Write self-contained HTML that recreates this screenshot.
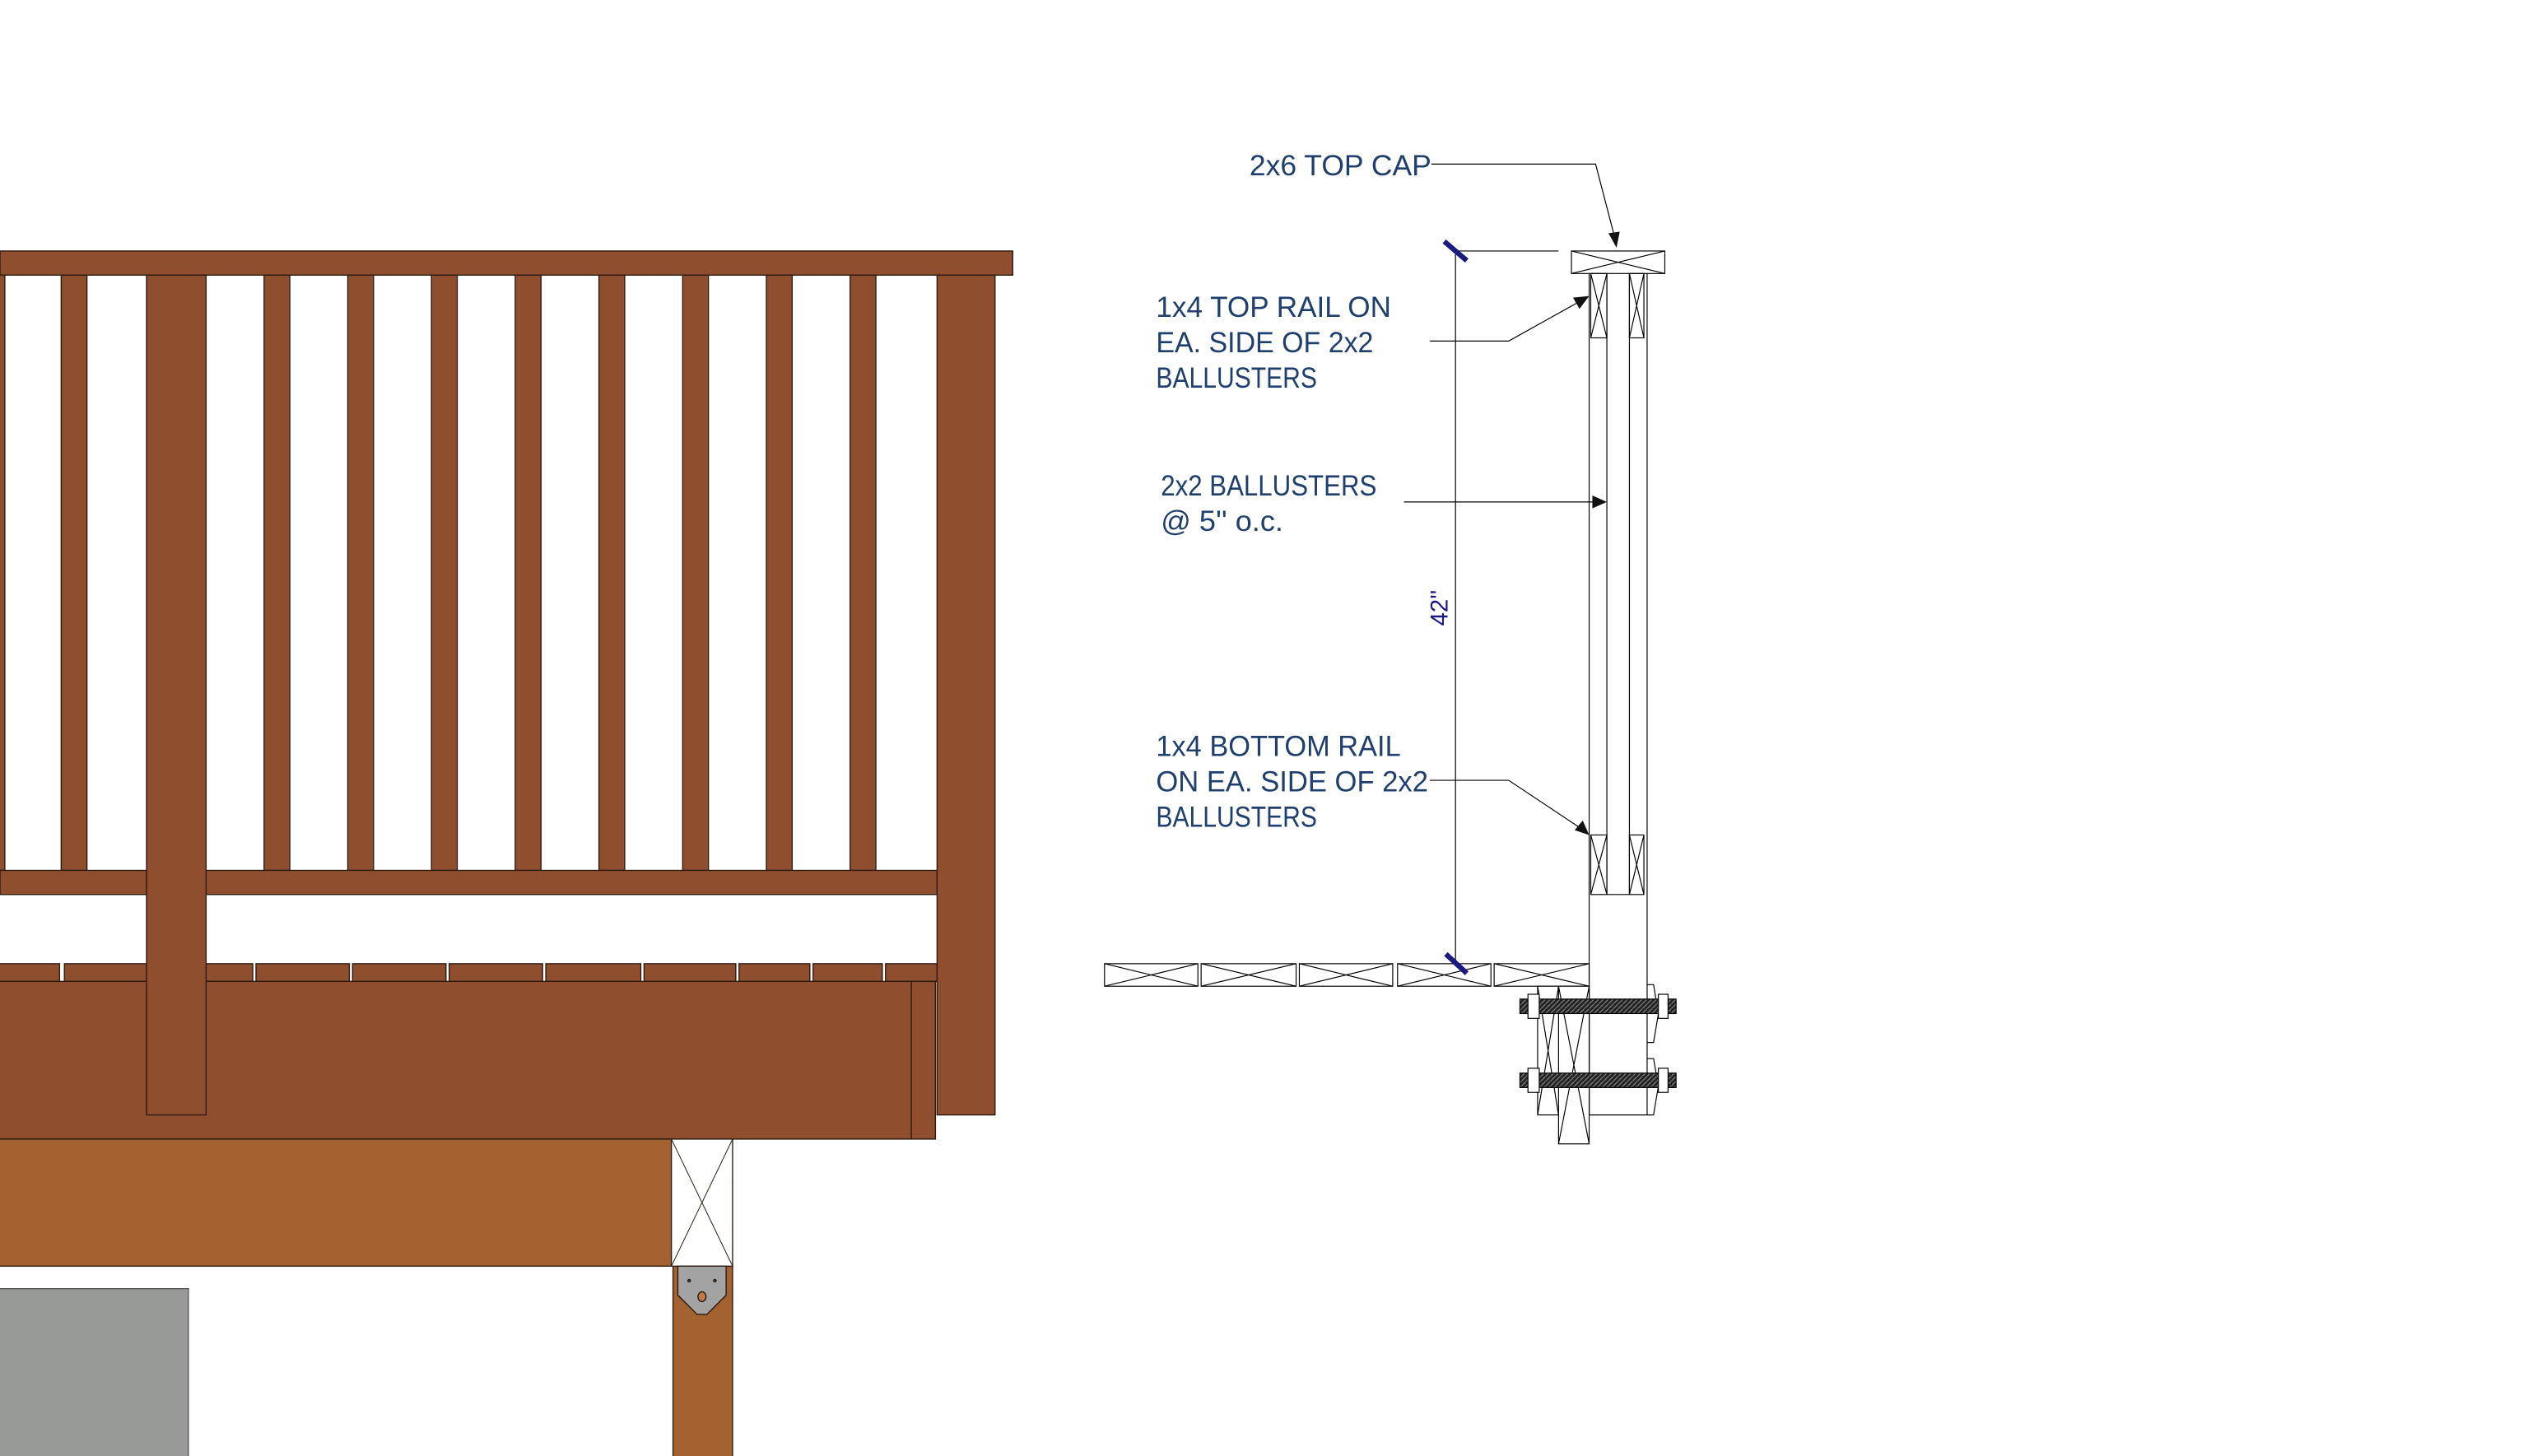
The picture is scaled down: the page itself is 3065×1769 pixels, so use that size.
<!DOCTYPE html>
<html><head><meta charset="utf-8"><style>
html,body{margin:0;padding:0;background:#fff;}
svg{display:block;}
text{font-family:"Liberation Sans",sans-serif;fill:#1f3f6e;font-size:18px;}
</style></head><body>
<svg width="3065" height="1769" viewBox="0 0 1567 905" preserveAspectRatio="none" xmlns="http://www.w3.org/2000/svg">
<defs>
<pattern id="hatch" width="3" height="3" patternUnits="userSpaceOnUse">
<rect width="3" height="3" fill="#222"/><path d="M0 3L3 0" stroke="#888" stroke-width="0.6"/>
</pattern>
</defs>
<g stroke="#2a1a10" stroke-width="0.7">
<rect x="0" y="156" width="629" height="15" fill="#8f4f2f"/>
<rect x="-2" y="171" width="5" height="370" fill="#8f4f2f"/>
<g fill="#8f4f2f">
<rect x="38" y="171" width="16" height="370"/>
<rect x="164" y="171" width="16" height="370"/>
<rect x="216" y="171" width="16" height="370"/>
<rect x="268" y="171" width="16" height="370"/>
<rect x="320" y="171" width="16" height="370"/>
<rect x="372" y="171" width="16" height="370"/>
<rect x="424" y="171" width="16" height="370"/>
<rect x="476" y="171" width="16" height="370"/>
<rect x="528" y="171" width="16" height="370"/>
<rect x="0" y="541" width="582" height="15"/>
<rect x="-1" y="599" width="38" height="11"/>
<rect x="40" y="599" width="117" height="11"/>
<rect x="159" y="599" width="58" height="11"/>
<rect x="219" y="599" width="58" height="11"/>
<rect x="279" y="599" width="58" height="11"/>
<rect x="339" y="599" width="59" height="11"/>
<rect x="400" y="599" width="57" height="11"/>
<rect x="459" y="599" width="44" height="11"/>
<rect x="505" y="599" width="43" height="11"/>
<rect x="550" y="599" width="32" height="11"/>
<rect x="582" y="171" width="36" height="522"/>
<rect x="-1" y="610" width="582" height="98"/>
<rect x="91" y="171" width="37" height="522"/>
</g>
<line x1="566" y1="610" x2="566" y2="708"/>
<rect x="-1" y="708" width="418" height="79" fill="#a3622f"/>
<rect x="418" y="787" width="37" height="130" fill="#a3622f"/>
<rect x="417" y="708" width="38" height="79" fill="#fff"/>
<path d="M417 708L455 787M455 708L417 787" fill="none" stroke-width="0.5"/>
<path d="M421 787H451V805L439 817H433L421 805Z" fill="#a3a3a3"/>
<ellipse cx="436" cy="806" rx="2.5" ry="3" fill="#c07a4a"/>
<circle cx="428" cy="796" r="0.8" fill="#5a3a20"/><circle cx="444" cy="796" r="0.8" fill="#5a3a20"/>
<rect x="-1" y="801" width="118" height="110" fill="#989a97" stroke="#555"/>
</g>

<g stroke="#000" stroke-width="0.6" fill="none">
<rect x="976" y="156" width="58" height="14" fill="#fff"/>
<path d="M976 156L1034 170M1034 156L976 170"/>
<line x1="987" y1="170" x2="987" y2="693"/>
<line x1="1023" y1="170" x2="1023" y2="693"/>
<line x1="998" y1="170" x2="998" y2="556"/>
<line x1="1012" y1="170" x2="1012" y2="556"/>
<line x1="998" y1="556" x2="1012" y2="556"/>
<rect x="988" y="170" width="10" height="40"/><path d="M988 170L998 210M998 170L988 210"/>
<rect x="1012" y="170" width="9" height="40"/><path d="M1012 170L1021 210M1021 170L1012 210"/>
<rect x="988" y="519" width="10" height="37"/><path d="M988 519L998 556M998 519L988 556"/>
<rect x="1012" y="519" width="9" height="37"/><path d="M1012 519L1021 556M1021 519L1012 556"/>
<g>
<rect x="686" y="599" width="58" height="14"/><path d="M686 599L744 613M744 599L686 613"/>
<rect x="746" y="599" width="59" height="14"/><path d="M746 599L805 613M805 599L746 613"/>
<rect x="807" y="599" width="58" height="14"/><path d="M807 599L865 613M865 599L807 613"/>
<rect x="868" y="599" width="58" height="14"/><path d="M868 599L926 613M926 599L868 613"/>
<rect x="928" y="599" width="59" height="14"/><path d="M928 599L987 613M987 599L928 613"/>
</g>
<rect x="955" y="613" width="32" height="80" fill="#fff"/>
<path d="M955 613L968 693M968 613L955 693"/>
<rect x="968" y="613" width="19" height="98" fill="#fff"/>
<path d="M968 613L987 711M987 613L968 711"/>
<line x1="987" y1="693" x2="1023" y2="693"/>
<path d="M1023 612L1027 612L1030 630L1027 648L1023 648"/>
<path d="M1023 658L1027 658L1030 675L1027 693L1023 693"/>
<rect x="944" y="621" width="97" height="9" fill="url(#hatch)" stroke="#000"/>
<rect x="944" y="667" width="97" height="9" fill="url(#hatch)" stroke="#000"/>
<rect x="949" y="618" width="7" height="15" fill="#fff"/>
<rect x="949" y="664" width="7" height="15" fill="#fff"/>
<rect x="1030" y="618" width="6" height="15" fill="#fff"/>
<rect x="1030" y="664" width="6" height="15" fill="#fff"/>
<line x1="903" y1="156" x2="968" y2="156"/>
<line x1="904" y1="156" x2="904" y2="600"/>
<polyline points="889,102 991,102 1003,148"/>
<polyline points="888,212 937,212 980,188"/>
<line x1="872" y1="312" x2="992" y2="312"/>
<polyline points="888,485 937,485 982,515"/>
</g>
<g fill="#111">
<path d="M1004 154L999 145L1006 144Z"/>
<path d="M987 184L977 185L981 192Z"/>
<path d="M998 312L989 308L989 316Z"/>
<path d="M987 519L978 516L983 510Z"/>
</g>
<g stroke="#1a1a80" stroke-width="3.2">
<line x1="897" y1="150" x2="911" y2="162"/>
<line x1="898" y1="593" x2="911" y2="605"/>
</g>
<text x="776" y="109" textLength="113" lengthAdjust="spacingAndGlyphs">2x6 TOP CAP</text>
<text x="718" y="197" textLength="146" lengthAdjust="spacingAndGlyphs">1x4 TOP RAIL ON</text>
<text x="718" y="219" textLength="135" lengthAdjust="spacingAndGlyphs">EA. SIDE OF 2x2</text>
<text x="718" y="241" textLength="100" lengthAdjust="spacingAndGlyphs">BALLUSTERS</text>
<text x="721" y="308" textLength="134" lengthAdjust="spacingAndGlyphs">2x2 BALLUSTERS</text>
<text x="721" y="330" textLength="76" lengthAdjust="spacingAndGlyphs">@ 5'' o.c.</text>
<text x="718" y="470" textLength="152" lengthAdjust="spacingAndGlyphs">1x4 BOTTOM RAIL</text>
<text x="718" y="492" textLength="169" lengthAdjust="spacingAndGlyphs">ON EA. SIDE OF 2x2</text>
<text x="718" y="514" textLength="100" lengthAdjust="spacingAndGlyphs">BALLUSTERS</text>
<text x="0" y="0" transform="translate(899,389) rotate(-90)" style="fill:#1a1a80;font-size:15px">42''</text>
</svg>
</body></html>
